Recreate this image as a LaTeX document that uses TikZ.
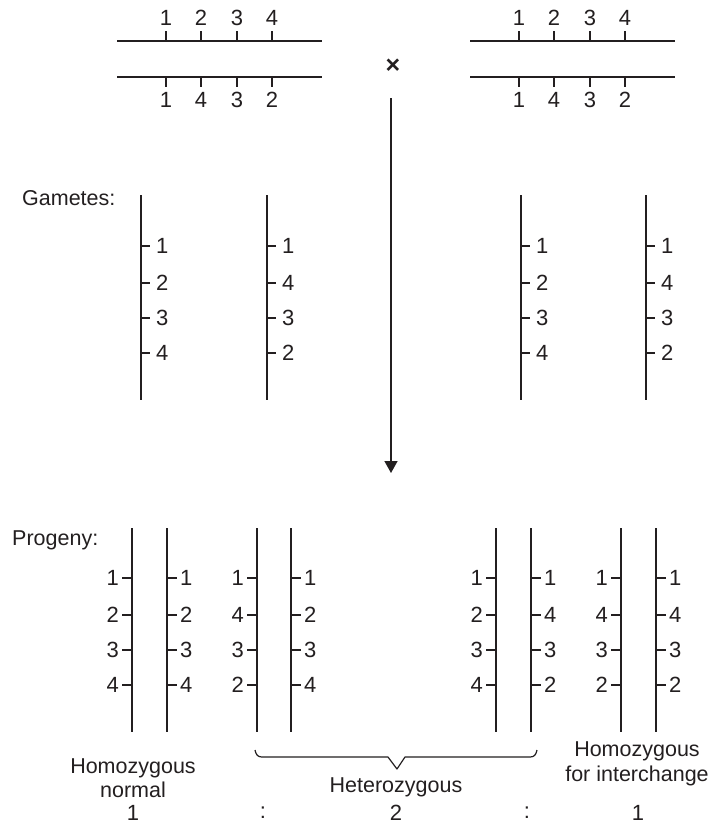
\documentclass[tikz,border=0pt]{standalone}
\usepackage{fontspec}
\setmainfont{Liberation Sans}
\usetikzlibrary{arrows.meta}
\definecolor{ink}{HTML}{231F20}
\begin{document}
\begin{tikzpicture}[x=1pt,y=-1pt,
  chrom/.style={draw=ink,line width=1.5pt},
  tick/.style={draw=ink,line width=1.4pt},
  lbl/.style={inner sep=0pt,text=ink,font=\fontsize{22}{24}\selectfont},
  txt/.style={inner sep=0pt,text=ink,align=center,font=\fontsize{21.5}{24.5}\selectfont}]
\fill[white] (0,0) rectangle (712,828);
\useasboundingbox (0,0) rectangle (712,828);
% ---- parental chromosomes
\foreach \dx/\nm in {0/L,353/R}{
  \draw[chrom] (117+\dx,41) -- (322+\dx,41);
  \draw[chrom] (117+\dx,77) -- (322+\dx,77);
  \foreach \x/\a/\b [count=\i] in {166/1/1,201/2/4,237/3/3,272/4/2}{
    \draw[tick] (\x+\dx,31) -- (\x+\dx,41);
    \draw[tick] (\x+\dx,77) -- (\x+\dx,87);
    \node[lbl] (p\nm t\i) at (\x+\dx,18) {\a};
    \node[lbl] (p\nm b\i) at (\x+\dx,100) {\b};
  }
}
\node[txt,font=\bfseries\fontsize{25}{26}\selectfont] (cross) at (393,66) {×};
\coordinate (astart) at (391,98);
\coordinate (aend) at (391,473);
\draw[ink,line width=1.5pt,-{Triangle[width=13pt,length=12pt]}] (astart) -- (aend);
% ---- gametes
\node[txt,anchor=west] (gam) at (22,198) {Gametes:};
\foreach \x/\a/\b/\c/\d [count=\k] in {141/1/2/3/4,267/1/4/3/2,521/1/2/3/4,646/1/4/3/2}{
  \draw[chrom] (\x,195) -- (\x,400);
  \foreach \y/\t [count=\i] in {246/\a,283/\b,318/\c,353/\d}{
    \draw[tick] (\x,\y) -- (\x+9,\y);
    \node[lbl,anchor=west] (g\k n\i) at (\x+15,\y) {\t};
  }
}
% ---- progeny
\node[txt,anchor=west] (prog) at (12,540) {Progeny:};
\foreach \xa/\xb/\a/\b/\c/\d/\e/\f/\g/\h [count=\k] in
  {132/167/1/2/3/4/1/2/3/4, 257/291/1/4/3/2/1/2/3/4, 496/531/1/2/3/4/1/4/3/2, 621/656/1/4/3/2/1/4/3/2}{
  \draw[chrom] (\xa,528) -- (\xa,732);
  \draw[chrom] (\xb,528) -- (\xb,732);
  \foreach \y/\l/\r [count=\i] in {578/\a/\e,615/\b/\f,650/\c/\g,685/\d/\h}{
    \draw[tick] (\xa-10,\y) -- (\xa,\y);
    \draw[tick] (\xb,\y) -- (\xb+10,\y);
    \node[lbl,anchor=east] (q\k l\i) at (\xa-13,\y) {\l};
    \node[lbl,anchor=west] (q\k r\i) at (\xb+13,\y) {\r};
  }
}
% ---- brace
\draw[ink,line width=1.2pt,line join=round] (255,750) .. controls (256,755) and (258,757) .. (262,757)
  -- (388,757) -- (397,769) -- (405,757) -- (530,757) .. controls (534,757) and (536,755) .. (537,750);
% ---- labels
\node[txt] (homn) at (133,778) {Homozygous\\normal};
\node[txt] (het) at (396,787) {Heterozygous};
\node[txt] (homi) at (637,764) {Homozygous\\for interchange};
\node[lbl] (r1) at (133,813) {1};
\node[lbl] (c1) at (263,813) {:};
\node[lbl] (r2) at (396,813) {2};
\node[lbl] (c2) at (527,813) {:};
\node[lbl] (r3) at (638,813) {1};
\end{tikzpicture}
\end{document}
